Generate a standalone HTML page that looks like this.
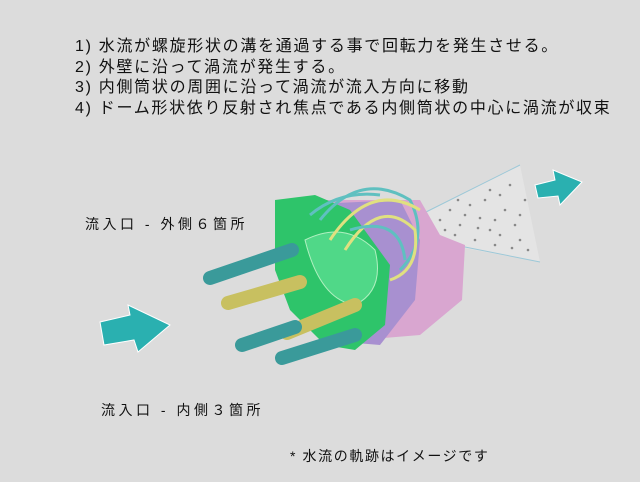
<!DOCTYPE html>
<html><head><meta charset="utf-8"><style>
body{margin:0;background:#dcdcdc;width:640px;height:482px;overflow:hidden;position:relative;font-family:"Liberation Sans","Noto Sans CJK JP",sans-serif;color:#111}
.t{position:absolute;font-size:16px;white-space:nowrap;line-height:20px;letter-spacing:1.7px}
.l{position:absolute;font-size:14px;white-space:nowrap;letter-spacing:3.5px}
svg{position:absolute;left:0;top:0}
</style></head><body>
<svg width="640" height="482">
<polygon points="420,215 520,165 540,262 420,240" fill="#e4e4e4"/>
<line x1="420" y1="215" x2="520" y2="165" stroke="#9cc8d8" stroke-width="1"/>
<line x1="430" y1="240" x2="540" y2="262" stroke="#9cc8d8" stroke-width="1"/>
<g fill="#888">
<circle cx="440" cy="220" r="1.3"/><circle cx="450" cy="210" r="1.3"/><circle cx="460" cy="225" r="1.3"/><circle cx="470" cy="205" r="1.3"/><circle cx="480" cy="218" r="1.3"/><circle cx="490" cy="230" r="1.3"/><circle cx="500" cy="195" r="1.3"/><circle cx="505" cy="210" r="1.3"/><circle cx="515" cy="225" r="1.3"/><circle cx="520" cy="240" r="1.3"/><circle cx="510" cy="185" r="1.3"/><circle cx="495" cy="245" r="1.3"/><circle cx="475" cy="240" r="1.3"/><circle cx="455" cy="235" r="1.3"/><circle cx="465" cy="215" r="1.3"/><circle cx="485" cy="200" r="1.3"/><circle cx="525" cy="200" r="1.3"/><circle cx="528" cy="250" r="1.3"/><circle cx="445" cy="230" r="1.3"/><circle cx="495" cy="220" r="1.3"/><circle cx="512" cy="248" r="1.3"/><circle cx="478" cy="228" r="1.3"/><circle cx="500" cy="235" r="1.3"/><circle cx="520" cy="215" r="1.3"/><circle cx="490" cy="190" r="1.3"/><circle cx="458" cy="200" r="1.3"/>
</g>
<path d="M300,200 L420,200 L440,235 L465,245 L462,300 L420,335 L360,340 L300,320 Z" fill="#d9a6d0"/>
<path d="M295,205 L400,200 L420,240 L415,300 L380,345 L320,340 L290,300 Z" fill="#a890d0"/>
<path d="M275,200 L315,195 L350,210 L390,265 L385,325 L355,350 L325,345 L290,310 L275,270 Z" fill="#2ec46a"/>
<path d="M305,240 Q345,220 375,250 Q385,290 355,305 Q320,300 305,240Z" fill="#50d888" stroke="#b0f0c0"/>
<g fill="none" stroke-width="3">
<path d="M320,220 Q360,170 410,200 Q430,240 400,270" stroke="#5fc0c0"/>
<path d="M330,240 Q370,180 420,210" stroke="#e0e080"/>
<path d="M345,250 Q380,195 415,230 Q420,270 390,280" stroke="#e0e080"/>
<path d="M310,215 Q340,190 380,195" stroke="#5fc0c0"/>
<path d="M350,230 Q400,215 405,260" stroke="#5fc0c0"/>
</g>
<g stroke-linecap="round">
<line x1="210" y1="278" x2="292" y2="250" stroke="#3a9a9a" stroke-width="14"/>
<line x1="228" y1="303" x2="300" y2="282" stroke="#c8c060" stroke-width="14"/>
<line x1="287" y1="333" x2="355" y2="305" stroke="#c8c060" stroke-width="14"/>
<line x1="242" y1="345" x2="295" y2="327" stroke="#3a9a9a" stroke-width="14"/>
<line x1="282" y1="358" x2="355" y2="335" stroke="#3a9a9a" stroke-width="14"/>
</g>
<polygon points="100,322 130,315 128,305 170,325 138,352 134,340 104,345" fill="#2ab0b0" stroke="#fff" stroke-width="1"/>
<polygon points="535,185 555,180 553,170 582,182 560,205 558,196 538,198" fill="#2ab0b0" stroke="#fff" stroke-width="1"/>
</svg>
<div class="t" style="left:75px;top:37px">1) 水流が螺旋形状の溝を通過する事で回転力を発生させる。</div>
<div class="t" style="left:75px;top:58px">2) 外壁に沿って渦流が発生する。</div>
<div class="t" style="left:75px;top:78px">3) 内側筒状の周囲に沿って渦流が流入方向に移動</div>
<div class="t" style="left:75px;top:99px">4) ドーム形状依り反射され焦点である内側筒状の中心に渦流が収束</div>
<div class="l" style="left:85px;top:214px">流入口 - 外側６箇所</div>
<div class="l" style="left:101px;top:400px">流入口 - 内側３箇所</div>
<div class="l" style="left:290px;top:446px;letter-spacing:1.6px">* 水流の軌跡はイメージです</div>
</body></html>
